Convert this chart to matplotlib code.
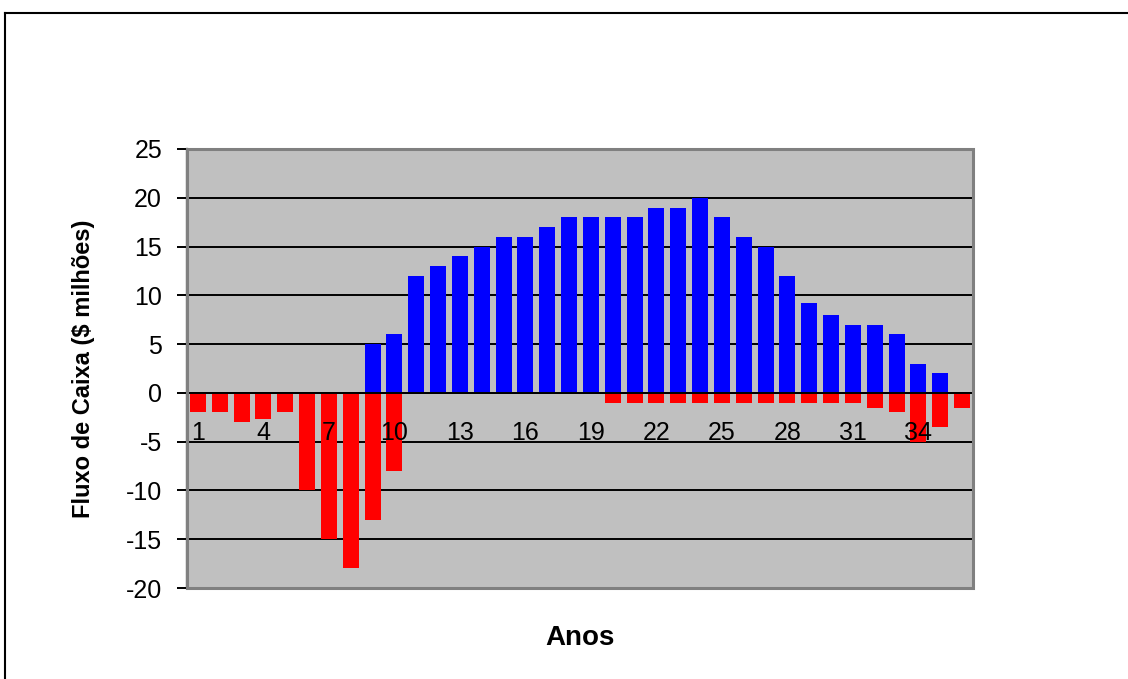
import matplotlib
matplotlib.use("Agg")
import matplotlib.pyplot as plt
from matplotlib.patches import Rectangle
from matplotlib.lines import Line2D

plt.rcParams['font.family'] = ['Liberation Sans', 'DejaVu Sans']

# anos 1..36
anos = list(range(1, 37))
entradas = [0, 0, 0, 0, 0, 0, 0, 0, 5, 6,
            12, 13, 14, 15, 16, 16, 17, 18, 18, 18,
            18, 19, 19, 20, 18, 16, 15, 12, 9.2, 8,
            7, 7, 6, 3, 2, 0]
saidas = [-2, -2, -3, -2.7, -2, -10, -15, -18, -13, -8,
          0, 0, 0, 0, 0, 0, 0, 0, 0, -1,
          -1, -1, -1, -1, -1, -1, -1, -1, -1, -1,
          -1, -1.5, -2, -5, -3.5, -1.5]
yticks = [-20, -15, -10, -5, 0, 5, 10, 15, 20, 25]
xticks = anos[::3]

fig = plt.figure(figsize=(11.28, 6.79), dpi=100)
ax = fig.add_axes([187 / 1128, 1 - 588 / 679, 786 / 1128, 439 / 679])
ax.set_facecolor('#C0C0C0')

# horizontal grid lines behind the bars
for v in yticks:
    ax.axhline(v, color='black', linewidth=1.4, zorder=1)

ax.bar(anos, entradas, width=0.74, color='#0000FF', zorder=2)
ax.bar(anos, saidas, width=0.74, color='#FF0000', zorder=2)

ax.set_xlim(0.5, 36.5)
ax.set_ylim(-20, 25)

ax.spines['bottom'].set_position(('data', 0))
ax.spines['bottom'].set_color('black')
ax.spines['bottom'].set_linewidth(1.4)
ax.spines['top'].set_visible(False)
ax.spines['right'].set_visible(False)
ax.spines['left'].set_linewidth(1.6)

ax.set_yticks(yticks)
ax.set_yticklabels([str(v) for v in yticks], fontsize=18)
ax.set_xticks(xticks)
ax.set_xticklabels([str(v) for v in xticks], fontsize=18)
ax.tick_params(axis='x', length=0, pad=20, labelsize=18)
ax.tick_params(axis='y', length=7, width=1.4, direction='out', pad=11, labelsize=18)
ax.set_axisbelow(False)

# gray plot-area frame
ax.add_patch(Rectangle((0, 0), 1, 1, transform=ax.transAxes, fill=False,
                       edgecolor='#808080', linewidth=2.2, zorder=5, clip_on=False))

ax.set_ylabel('Fluxo de Caixa ($ milhões)', fontsize=17, fontweight='bold', labelpad=22)
fig.text(580 / 1128, 1 - 638 / 679, 'Anos', fontsize=20, fontweight='bold',
         ha='center', va='center')

# outer border (left and top edges visible)
fig.add_artist(Line2D([5 / 1128, 5 / 1128], [0, 1 - 13 / 679], transform=fig.transFigure,
                      color='black', linewidth=1.5))
fig.add_artist(Line2D([5 / 1128, 1], [1 - 13 / 679, 1 - 13 / 679], transform=fig.transFigure,
                      color='black', linewidth=1.5))

fig.savefig('out.png', dpi=100, facecolor='white')
